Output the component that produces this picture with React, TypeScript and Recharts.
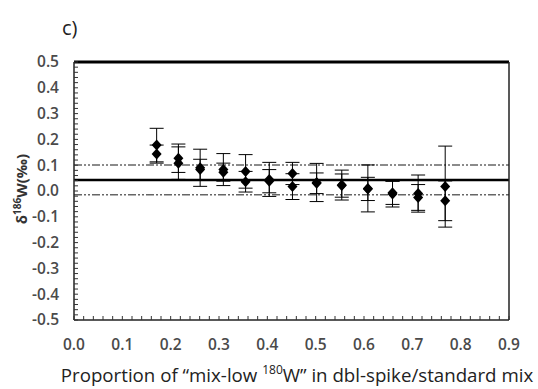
import { ErrorBar, ReferenceLine, Scatter, ScatterChart, XAxis, YAxis } from 'recharts'

// proportion of "mix-low 180W" for each measured pair
const proportions = [0.171, 0.216, 0.261, 0.309, 0.355, 0.404, 0.452, 0.502, 0.554, 0.608, 0.659, 0.712, 0.768]
// first measurement of each pair and its 2SE
const upperValues = [0.178, 0.127, 0.09, 0.083, 0.076, 0.045, 0.068, 0.033, 0.023, 0.01, -0.007, -0.01, 0.017]
const upperErrors = [0.065, 0.055, 0.072, 0.062, 0.065, 0.066, 0.043, 0.074, 0.058, 0.091, 0.045, 0.072, 0.157]
// second measurement of each pair and its 2SE
const lowerValues = [0.143, 0.108, 0.083, 0.073, 0.036, 0.038, 0.017, 0.03, 0.021, 0.008, -0.012, -0.025, -0.038]
const lowerErrors = [0.035, 0.063, 0.04, 0.035, 0.04, 0.045, 0.05, 0.04, 0.045, 0.045, 0.05, 0.05, 0.077]

// mean and 2SD band
const meanValue = 0.043
const bandValues = [0.101, -0.015]

const xMajorTicks = [0, 0.1, 0.2, 0.3, 0.4, 0.5, 0.6, 0.7, 0.8, 0.9]
const yMajorTicks = [-0.5, -0.4, -0.3, -0.2, -0.1, 0, 0.1, 0.2, 0.3, 0.4, 0.5]

const xTicks = Array.from({ length: 46 }, (_, i) => Number((i * 0.02).toFixed(2)))
const yTicks = Array.from({ length: 51 }, (_, i) => Number((-0.5 + i * 0.02).toFixed(2)))

const isMajor = (v: number, majors: number[]) => majors.some((m) => Math.abs(m - v) < 1e-6)

const chartData = [
  ...proportions.map((x, i) => ({ x, y: upperValues[i], err: upperErrors[i] })),
  ...proportions.map((x, i) => ({ x, y: lowerValues[i], err: lowerErrors[i] }))
]

const labelStyle = { fontFamily: '"Open Sans", sans-serif', fontSize: 15.5, fontWeight: 600, fill: '#4a4a4a' }

function XTick({ x, y, payload }: any) {
  const v = payload.value
  return (
    <g>
      <line x1={x} x2={x} y1={y} y2={y - 4} stroke="#333" strokeWidth={1} />
      {isMajor(v, xMajorTicks) && (
        <text x={x} y={y + 25} dy="0.35em" textAnchor="middle" {...labelStyle}>
          {v.toFixed(1)}
        </text>
      )}
    </g>
  )
}

function YTickLeft({ x, y, payload }: any) {
  const v = payload.value
  return (
    <g>
      <line x1={x} x2={x + 4} y1={y} y2={y} stroke="#333" strokeWidth={1} />
      {isMajor(v, yMajorTicks) && (
        <text x={x - 15} y={y} dy="0.35em" textAnchor="end" {...labelStyle}>
          {Math.abs(v) < 1e-6 ? '0.0' : v.toFixed(1)}
        </text>
      )}
    </g>
  )
}

function YTickRight({ x, y }: any) {
  return <line x1={x} x2={x - 4} y1={y} y2={y} stroke="#333" strokeWidth={1} />
}

function Diamond({ cx, cy }: any) {
  return <polygon points={`${cx},${cy - 5.5} ${cx + 5},${cy} ${cx},${cy + 5.5} ${cx - 5},${cy}`} fill="#000" />
}

export default function App() {
  return (
    <div style={{ position: 'absolute', left: 0, top: 0, width: 538, height: 389, background: '#fff' }}>
      <div
        style={{ position: 'absolute', left: 62, top: 14, fontFamily: '"Open Sans", sans-serif', fontSize: 20, color: '#222' }}
      >
        c)
      </div>
      <div
        style={{
          position: 'absolute',
          left: 20,
          top: 189,
          transform: 'translate(-50%, -50%) rotate(-90deg)',
          whiteSpace: 'nowrap',
          fontFamily: '"Open Sans", sans-serif',
          fontSize: 15,
          fontWeight: 700,
          color: '#333'
        }}
      >
        δ<sup style={{ fontSize: 10 }}>186</sup>W(‰)
      </div>
      <div
        style={{
          position: 'absolute',
          left: 297,
          top: 374,
          transform: 'translate(-50%, -50%)',
          whiteSpace: 'nowrap',
          fontFamily: '"Open Sans", sans-serif',
          fontSize: 18.7,
          color: '#222'
        }}
      >
        Proportion of “mix-low <sup style={{ fontSize: 12 }}>180</sup>W” in dbl-spike/standard mix
      </div>
      <ScatterChart width={538} height={389} margin={{ top: 62, right: 0, bottom: 0, left: 0 }}>
        <XAxis
          type="number"
          dataKey="x"
          domain={[0, 0.9]}
          ticks={xTicks}
          interval={0}
          tickSize={0}
          tickMargin={0}
          tickLine={false}
          tick={<XTick />}
          height={69}
          axisLine={{ stroke: '#222', strokeWidth: 1.5 }}
        />
        <YAxis
          yAxisId="left"
          type="number"
          dataKey="y"
          domain={[-0.5, 0.5]}
          ticks={yTicks}
          interval={0}
          tickSize={0}
          tickMargin={0}
          tickLine={false}
          tick={<YTickLeft />}
          width={74}
          axisLine={{ stroke: '#222', strokeWidth: 1.5 }}
        />
        <YAxis
          yAxisId="right"
          orientation="right"
          type="number"
          domain={[-0.5, 0.5]}
          ticks={yTicks}
          interval={0}
          tickSize={0}
          tickMargin={0}
          tickLine={false}
          tick={<YTickRight />}
          width={29}
          axisLine={{ stroke: '#222', strokeWidth: 1.5 }}
        />
        <ReferenceLine yAxisId="left" y={0.5} stroke="#000" strokeWidth={3} />
        <ReferenceLine yAxisId="left" y={meanValue} stroke="#000" strokeWidth={2.5} />
        {bandValues.map((v) => (
          <ReferenceLine key={v} yAxisId="left" y={v} stroke="#666" strokeWidth={1.5} strokeDasharray="8 2 2 2 2 2" />
        ))}
        <Scatter yAxisId="left" data={chartData} shape={<Diamond />} isAnimationActive={false}>
          <ErrorBar dataKey="err" direction="y" width={7} stroke="#000" strokeWidth={1} />
        </Scatter>
      </ScatterChart>
    </div>
  )
}
